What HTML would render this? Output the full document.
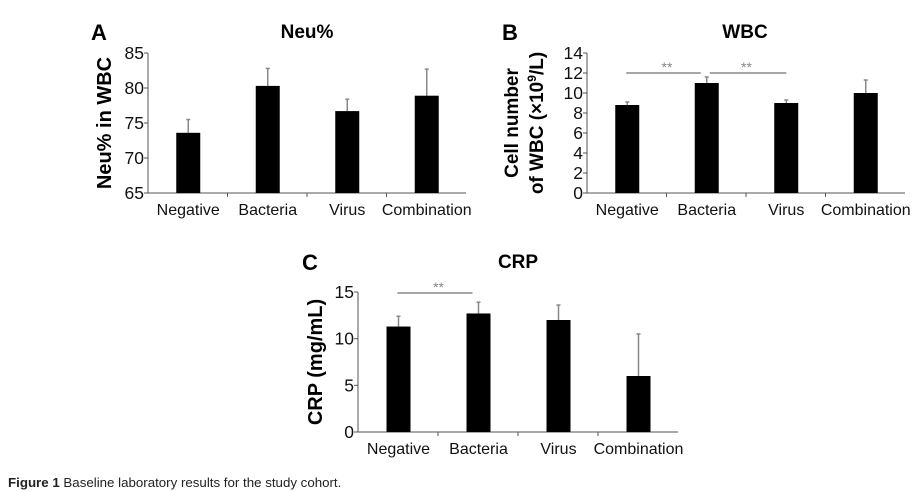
<!DOCTYPE html>
<html><head><meta charset="utf-8"><style>
body{margin:0;background:#fff;}
svg{display:block;font-family:"Liberation Sans",Arial,sans-serif;}
</style></head><body>
<svg id="s" width="912" height="492" viewBox="0 0 912 492">
<text x="8" y="487" font-size="13.3" fill="#222"><tspan font-weight="bold">Figure 1</tspan> Baseline laboratory results for the study cohort.</text>
</svg>
<script>
const categories=["Negative","Bacteria","Virus","Combination"];
const neuValues=[73.6,80.3,76.7,78.9];
const neuErrors=[1.9,2.5,1.7,3.8];
const neuTicks=[65,70,75,80,85];
const wbcValues=[8.8,11.0,9.0,10.0];
const wbcErrors=[0.3,0.6,0.3,1.3];
const wbcTicks=[0,2,4,6,8,10,12,14];
const crpValues=[11.3,12.7,12.0,6.0];
const crpErrors=[1.1,1.2,1.6,4.5];
const crpTicks=[0,5,10,15];
const wbcSig=[[0,1],[1,2]];
const crpSig=[[0,1]];

const NS="http://www.w3.org/2000/svg";
const svg=document.getElementById('s');
function mk(tag,attrs,parent){const e=document.createElementNS(NS,tag);for(const k in attrs)e.setAttribute(k,attrs[k]);(parent||svg).appendChild(e);return e;}

function chart(o){
  const g=mk('g',{});
  
  
  const y=v=>o.y0-(v-o.min)/(o.max-o.min)*(o.y0-o.y1);
  const bw=(o.x1-o.x0)/categories.length;
  const cx=i=>o.x0+bw*(i+0.5)+0.5;
  const ya=mk('line',{x1:o.x0,y1:o.y1,x2:o.x0,y2:o.y0,stroke:'#555','stroke-width':1},g);
  
  
  const xa=mk('line',{x1:o.x0,y1:o.y0,x2:o.x1,y2:o.y0,stroke:'#555','stroke-width':1},g);
  
  
  o.ticks.forEach(t=>{
    mk('line',{x1:o.x0-4,y1:y(t),x2:o.x0,y2:y(t),stroke:'#555'},g);
    const tl=mk('text',{x:o.x0-4,y:y(t)+6,'font-size':o.tickFs||17.5,'text-anchor':'end',fill:'#111'},g);
    tl.textContent=t;
    
    
  });
  for(let i=1;i<categories.length;i++) mk('line',{x1:o.x0+bw*i,y1:o.y0,x2:o.x0+bw*i,y2:o.y0+4,stroke:'#555'},g);
  categories.forEach((c,i)=>{
    const v=o.values[i],e=o.errors[i];
    const el=mk('line',{x1:cx(i),y1:y(v),x2:cx(i),y2:y(v+e),stroke:'#888','stroke-width':1.5},g);
    
    
    mk('line',{x1:cx(i)-2,y1:y(v+e),x2:cx(i)+2,y2:y(v+e),stroke:'#888','stroke-width':1.5},g);
    const r=mk('rect',{x:cx(i)-12,y:y(v),width:24,height:o.y0-y(v),fill:'#000'},g);
    
    
    const t=mk('text',{x:cx(i),y:o.y0+22,'font-size':16,'text-anchor':'middle',fill:'#111'},g);
    t.textContent=c;
    
    
  });
  (o.sig||[]).forEach(([a,b],k)=>{
    const l=mk('line',{x1:cx(a)-1+(k>0?4:0),y1:o.sigY,x2:cx(b)-6+(k>0?6:0),y2:o.sigY,stroke:'#888','stroke-width':1.5},g);
    
    
    const s=mk('text',{x:(cx(a)+cx(b))/2,y:o.sigY-1,'font-size':14,'text-anchor':'middle',fill:'#888'},g);
    s.textContent='**';
    
    
  });
  const ti=mk('text',{x:o.titleX,y:o.titleY,'font-size':19,'font-weight':'bold','text-anchor':'middle'},g);
  ti.textContent=o.title;
  
  
  const pl=mk('text',{x:o.panelX,y:o.titleY+2,'font-size':22,'font-weight':'bold'},g);
  pl.textContent=o.panel;
  
  
  o.ylab.forEach((lab,k)=>{
    const yx=o.ylabX+k*25, yy=(o.y0+o.y1)/2;
    const yl=mk('text',{x:yx,y:yy,'font-size':o.ylabFs||20,'font-weight':'bold','text-anchor':'middle',transform:`rotate(-90 ${yx} ${yy})`},g);
    yl.innerHTML=lab;
    
    
  });
}
chart({name:'neu-chart',x0:148,x1:466,y0:193,y1:53,min:65,max:85,ticks:neuTicks,values:neuValues,errors:neuErrors,title:'Neu%',titleX:307,titleY:38,panel:'A',panelX:91,ylab:['Neu% in WBC'],ylabX:111});
chart({name:'wbc-chart',x0:587,x1:905,y0:193,y1:53,min:0,max:14,ticks:wbcTicks,values:wbcValues,errors:wbcErrors,title:'WBC',titleX:745,titleY:38,panel:'B',panelX:502,ylab:['Cell number','of WBC (×10<tspan font-size="12" dy="-7">9</tspan><tspan dy="7">/L)</tspan>'],ylabX:518,ylabFs:19,sig:wbcSig,sigY:73});
chart({name:'crp-chart',x0:358,x1:678,y0:432,y1:292,min:0,max:15,ticks:crpTicks,values:crpValues,errors:crpErrors,title:'CRP',titleX:518,titleY:268,panel:'C',panelX:302,ylab:['CRP (mg/mL)'],ylabX:322,sig:crpSig,sigY:293});
</script>
</body></html>
